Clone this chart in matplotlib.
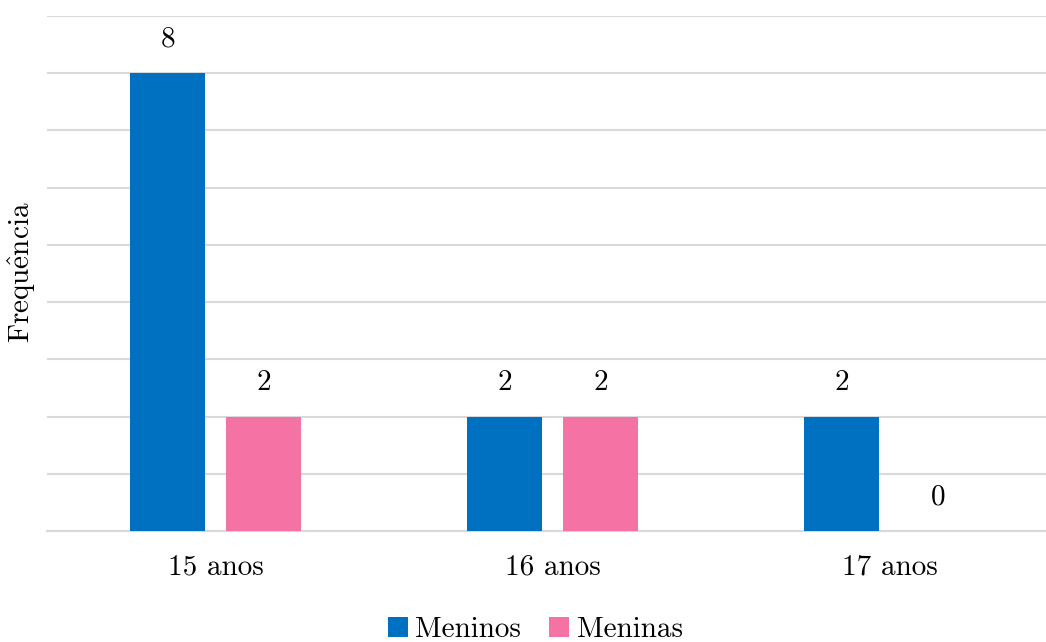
import matplotlib.pyplot as plt
import numpy as np

categorias = ["15 anos", "16 anos", "17 anos"]
meninos = [8, 2, 2]
meninas = [2, 2, 0]

plt.rcParams['font.family'] = ['cmr10', 'DejaVu Serif']
plt.rcParams['mathtext.fontset'] = 'cm'
plt.rcParams['axes.formatter.use_mathtext'] = True

fig = plt.figure(figsize=(10.46, 6.42), dpi=100)
ax = fig.add_axes([0.045, 0.1729, 0.955, 0.975 - 0.1729])

x = np.arange(len(categorias))
w = 0.2226
off = 0.1425
b1 = ax.bar(x - off, meninos, w, color='#0070C0', label='Meninos', zorder=3)
b2 = ax.bar(x + off, meninas, w, color='#F472A4', label='Meninas', zorder=3)

fs = 21
for bars, vals in ((b1, meninos), (b2, meninas)):
    for r, v in zip(bars, vals):
        ax.annotate(str(v), (r.get_x() + r.get_width() / 2, v),
                    xytext=(0, 15), textcoords='offset points',
                    ha='center', va='bottom', fontsize=fs)

ax.set_xlim(-0.5, (1046 - 216) / 337)
ax.set_ylim(0, 9)
ax.set_yticks(range(0, 10))
ax.set_yticklabels([])
ax.tick_params(axis='y', length=0)
ax.grid(axis='y', color='#D9D9D9', linewidth=1.5, zorder=0)
ax.set_xticks(x)
ax.set_xticklabels(categorias, fontsize=fs)
ax.tick_params(axis='x', length=0, pad=17)
for s in ['top', 'right', 'left']:
    ax.spines[s].set_visible(False)
ax.spines['bottom'].set_color('#D9D9D9')
ax.spines['bottom'].set_linewidth(1.5)

# rotulo do eixo y
fig.text(22 / 1046, 1 - 272 / 642, r'$\mathrm{Frequ\hat{e}ncia}$', rotation=90,
         ha='center', va='center', fontsize=fs)

fig.legend(loc='center', bbox_to_anchor=(535 / 1046, 1 - 630 / 642), ncol=2, frameon=False,
           fontsize=fs, handlelength=0.7, handleheight=0.7, handletextpad=0.25,
           columnspacing=0.95, borderpad=0)

fig.savefig('out.png', dpi=100)
